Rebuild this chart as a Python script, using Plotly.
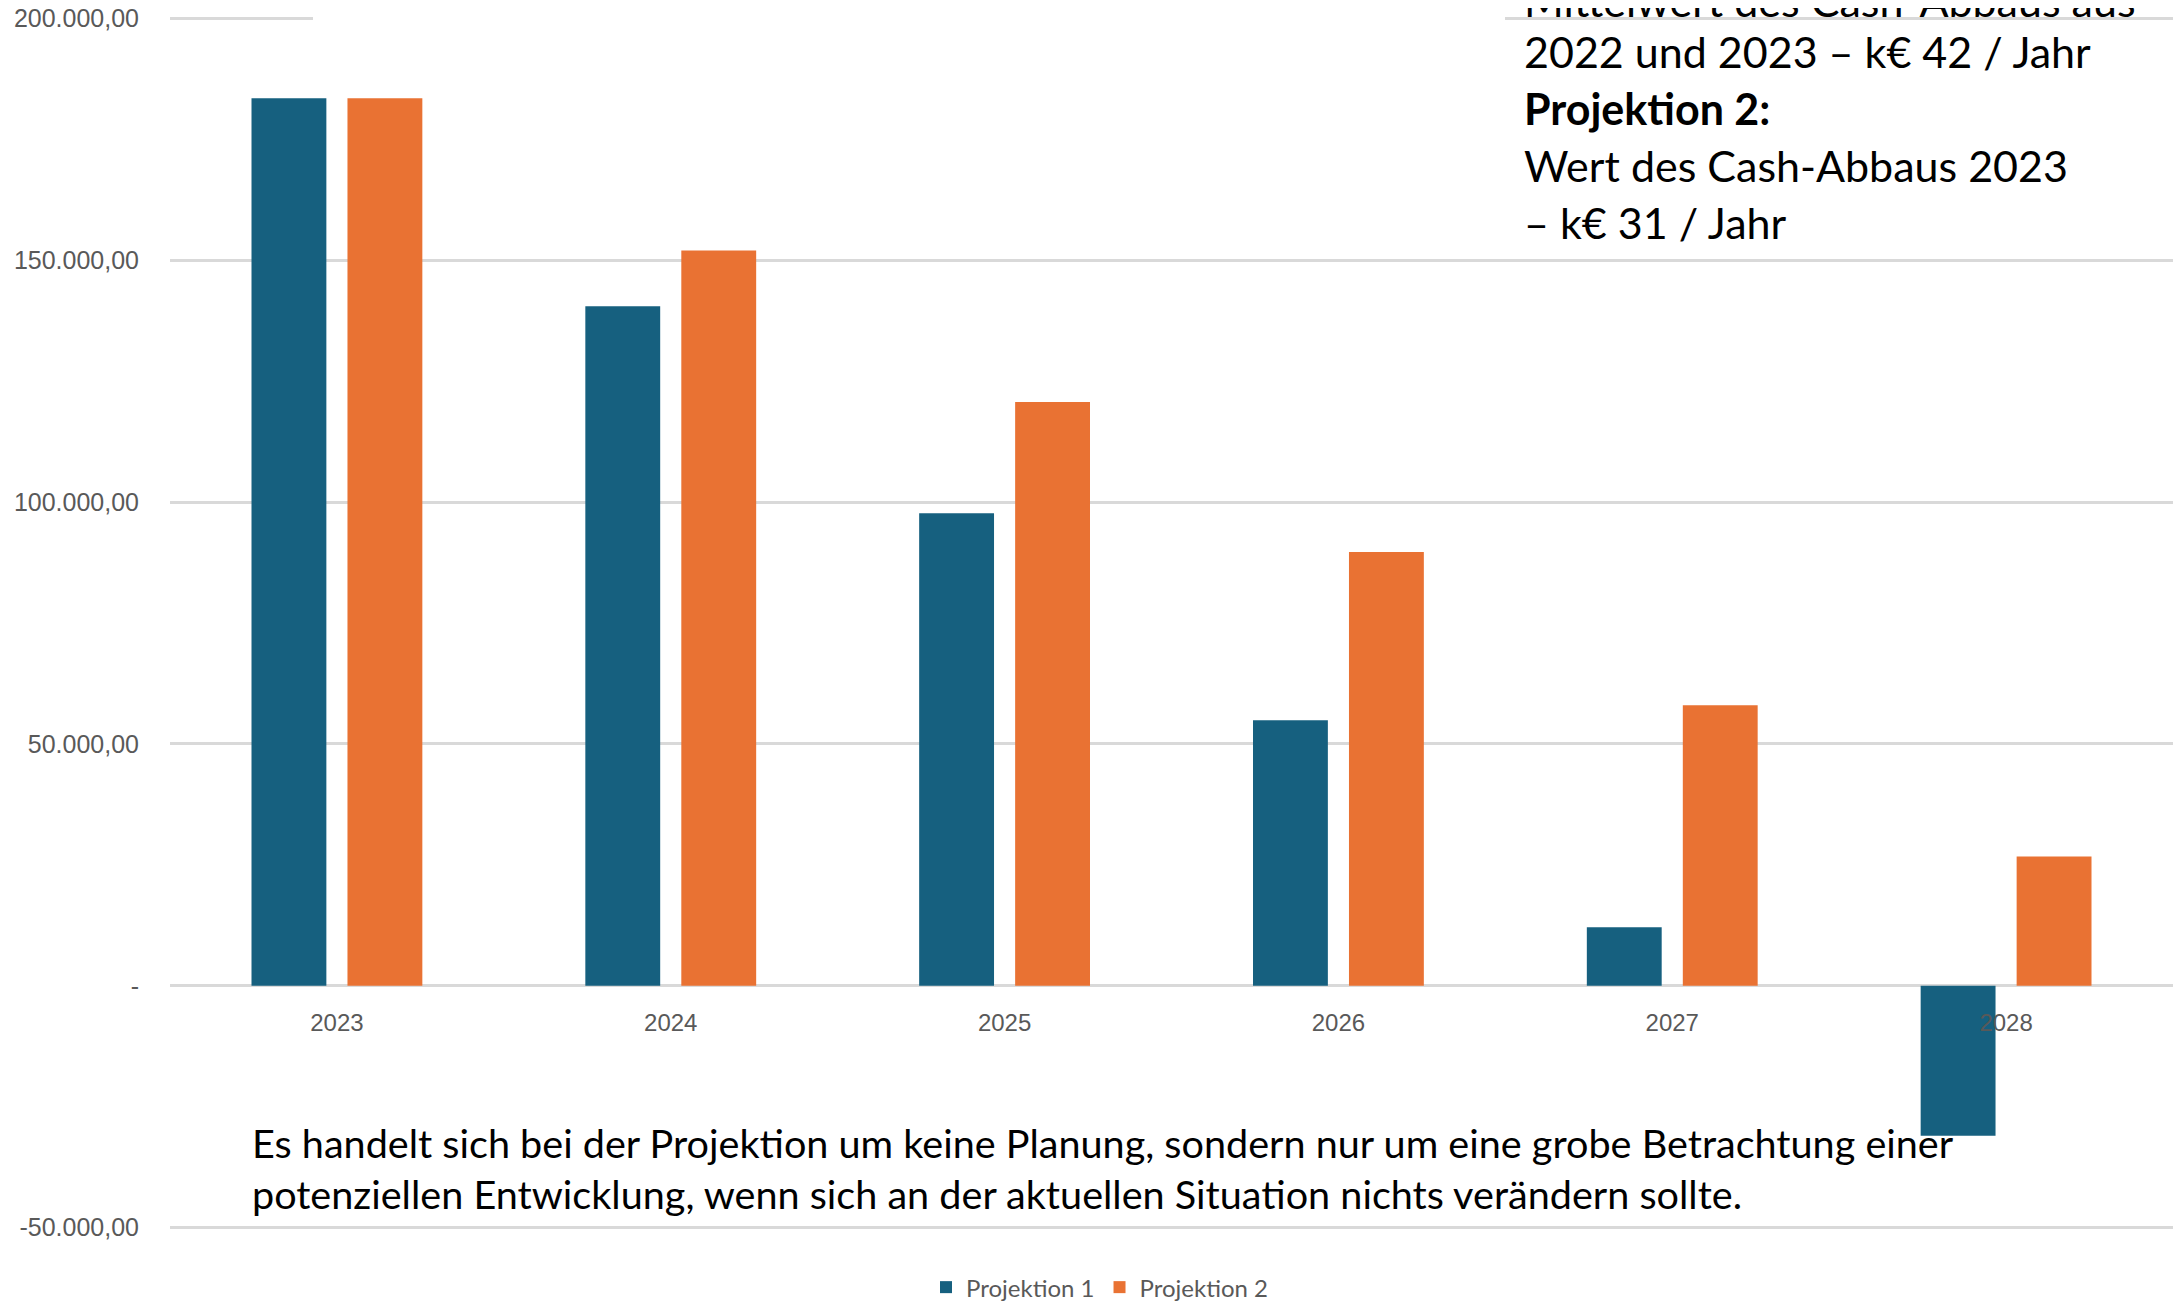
import plotly.graph_objects as go

# ---- data ----
years = ["2023", "2024", "2025", "2026", "2027", "2028"]
projektion_1 = [183500, 140500, 97700, 54900, 12100, -31000]
projektion_2 = [183500, 152000, 120700, 89700, 58000, 26700]
series_names = ["Projektion 1", "Projektion 2"]

y_tickvals = [-50000, 0, 50000, 100000, 150000, 200000]
y_ticktext = ["-50.000,00", "-", "50.000,00", "100.000,00", "150.000,00", "200.000,00"]
y_range = [-50500, 200500]

right_box_lines = [
    ("Mittelwert des Cash-Abbaus aus", False),
    ("2022 und 2023 \u2013 k\u20ac 42 / Jahr", False),
    ("Projektion 2:", True),
    ("Wert des Cash-Abbaus 2023", False),
    ("\u2013 k\u20ac 31 / Jahr", False),
]
bottom_box_lines = [
    "Es handelt sich bei der Projektion um keine Planung, sondern nur um eine grobe Betrachtung einer",
    "potenziellen Entwicklung, wenn sich an der aktuellen Situation nichts ver\u00e4ndern sollte.",
]

# ---- geometry: reference pixel coords, page body has an 8px margin ----
OFF = 8
W, H = 2181 - OFF, 1301 - OFF
PLOT_L, PLOT_R = 170 - OFF, 2173 - OFF
Y200, YM50 = 18 - OFF, 1228 - OFF          # pixel rows of 200k and -50k
ppu = (YM50 - Y200) / 250000.0              # pixels per unit
PLOT_T = Y200 - (y_range[1] - 200000) * ppu
PLOT_B = YM50 + (-50000 - y_range[0]) * ppu
L, R, T, B = PLOT_L, W - PLOT_R, PLOT_T, H - PLOT_B
PW = PLOT_R - PLOT_L
PH = PLOT_B - PLOT_T


def px_x(px):
    return (px - OFF - PLOT_L) / PW


def px_y(py):
    return (PLOT_B - (py - OFF)) / PH


BLUE = "#16607F"
ORANGE = "#E97233"
GRID = "#D9D9D9"
TICK = "#595959"

fig = go.Figure()
fig.add_trace(go.Bar(x=years, y=projektion_1, name=series_names[0],
                     marker=dict(color=BLUE, line=dict(width=0))))
fig.add_trace(go.Bar(x=years, y=projektion_2, name=series_names[1],
                     marker=dict(color=ORANGE, line=dict(width=0))))

annotations = []
right_y = [0, 51, 108, 165, 222]
for (txt, bold), yy in zip(right_box_lines, right_y):
    annotations.append(dict(
        text=f"<b>{txt}</b>" if bold else txt,
        xref="paper", yref="paper", x=px_x(1522), y=px_y(yy),
        xanchor="left", yanchor="middle", showarrow=False,
        font=dict(family="Lato", size=43, color="#000000"),
    ))
bottom_y = [1143, 1194]
for txt, yy in zip(bottom_box_lines, bottom_y):
    annotations.append(dict(
        text=txt, xref="paper", yref="paper", x=px_x(250), y=px_y(yy),
        xanchor="left", yanchor="middle", showarrow=False,
        font=dict(family="Lato", size=39.6, color="#000000"),
    ))

fig.update_layout(
    width=W, height=H,
    margin=dict(l=L, r=R, t=T, b=B, pad=0, autoexpand=False),
    paper_bgcolor="white", plot_bgcolor="white",
    barmode="group", bargap=0.425, bargroupgap=0.22,
    showlegend=True,
    legend=dict(orientation="h", xanchor="center", yanchor="middle",
                x=px_x(1100), y=px_y(1288),
                font=dict(family="Lato", size=24, color=TICK),
                itemwidth=30, tracegroupgap=0),
    annotations=annotations,
    shapes=[dict(type="rect", xref="paper", yref="paper",
                 x0=px_x(313), x1=px_x(1505), y0=px_y(28), y1=px_y(0),
                 fillcolor="white", line=dict(width=0), layer="above")],
    xaxis=dict(type="category", anchor="free",
               position=(0 - y_range[0]) / (y_range[1] - y_range[0]),
               showgrid=False, showline=False, zeroline=False,
               ticks="", ticklabelstandoff=20,
               tickfont=dict(family="Liberation Sans", size=24, color=TICK)),
    yaxis=dict(range=y_range, tickvals=y_tickvals, ticktext=y_ticktext,
               showgrid=True, gridcolor=GRID, gridwidth=3,
               zeroline=True, zerolinecolor=GRID, zerolinewidth=3,
               showline=False, ticks="", ticklabelstandoff=30,
               ticklabeloverflow="allow",
               tickfont=dict(family="Liberation Sans", size=25, color=TICK)),
)

fig.write_html("out.html")
